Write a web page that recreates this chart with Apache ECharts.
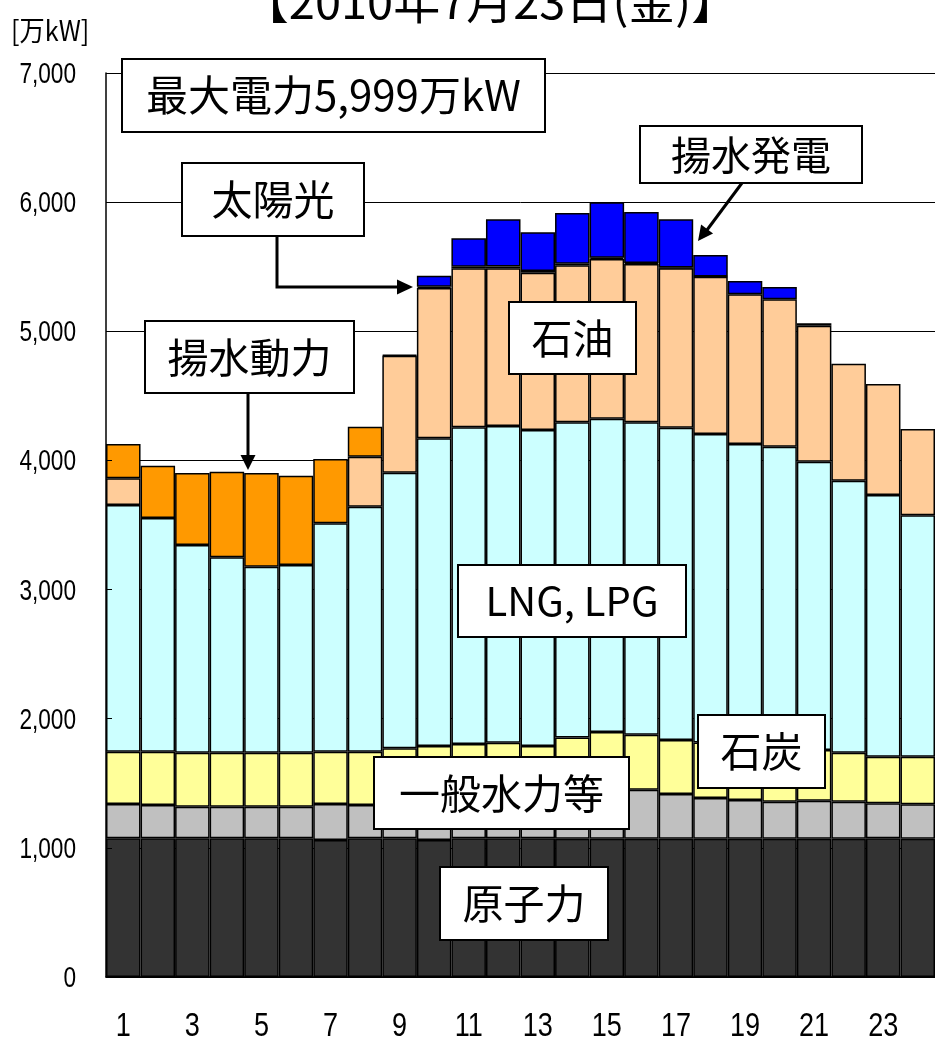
<!DOCTYPE html>
<html>
<head>
<meta charset="utf-8">
<script src="https://cdn.jsdelivr.net/npm/echarts@6/dist/echarts.min.js"></script>
<style>
html,body{margin:0;padding:0;background:#fff;}
#chart{width:935px;height:1039px;}
</style>
</head>
<body>
<div id="chart"></div>
<script>
// ---- data (万kW) ----
var hours   = ['1','2','3','4','5','6','7','8','9','10','11','12','13','14','15','16','17','18','19','20','21','22','23','24'];
var nuclear = [1075,1075,1075,1075,1075,1075,1060,1075,1075,1060,1075,1075,1075,1070,1070,1070,1070,1070,1070,1070,1070,1070,1075,1070];
var hydro   = [265,257,244,244,244,244,280,257,265,300,305,325,335,360,370,380,347,316,301,287,295,287,270,267];
var coal    = [405,413,418,418,418,418,405,413,431,429,424,414,379,425,457,426,418,429,424,418,393,380,361,369];
var lng     = [1910,1809,1608,1513,1440,1453,1768,1897,2134,2382,2453,2453,2447,2440,2426,2419,2419,2390,2332,2331,2232,2106,2026,1869];
var oil     = [207,'-','-','-','-','-','-',387,906,1164,1231,1221,1218,1216,1237,1226,1234,1218,1159,1142,1053,906,860,668];
var solar   = ['-','-','-','-','-','-','-','-',5,10,12,13,13,12,10,8,5,2,'-','-','-','-','-','-'];
var pumpGen = ['-','-','-','-','-','-','-','-','-',85,220,366,299,393,429,395,374,166,104,95,20,'-','-','-'];
var pumpUse = [265,405,558,663,726,692,498,232,'-','-','-','-','-','-','-','-','-','-','-','-','-','-','-','-'];
var yTicks  = [0,1000,2000,3000,4000,5000,6000,7000];

var chart = echarts.init(document.getElementById('chart'));
var jp = '"Noto Sans CJK JP", sans-serif';
var arial = '"Liberation Sans", Arial, sans-serif';

function mkSeries(name, data, color) {
  return {
    name: name, type: 'bar', stack: 'total', data: data,
    barCategoryGap: '0%', barGap: '0%',
    itemStyle: { color: color, borderColor: '#000', borderWidth: 1.5 },
    emphasis: { disabled: true },
    animation: false
  };
}

function box(x, y, w, h, text, size) {
  return {
    type: 'group',
    children: [
      { type: 'rect', z: 100, shape: { x: x, y: y, width: w, height: h },
        style: { fill: '#fff', stroke: '#000', lineWidth: 2 } },
      { type: 'text', z: 101, x: x + w / 2, y: y + h / 2,
        style: { text: text, font: size + 'px ' + jp, fill: '#000', align: 'center', verticalAlign: 'middle' } }
    ]
  };
}

function arrow(points, tip, back, half, dir) {
  var poly;
  if (dir === 'right') poly = [[tip[0], tip[1]], [tip[0] - back, tip[1] - half], [tip[0] - back, tip[1] + half]];
  else if (dir === 'down') poly = [[tip[0], tip[1]], [tip[0] - half, tip[1] - back], [tip[0] + half, tip[1] - back]];
  else {
    var dx = dir[0], dy = dir[1], L = Math.sqrt(dx * dx + dy * dy); dx /= L; dy /= L;
    var bx = tip[0] - dx * back, by = tip[1] - dy * back;
    poly = [[tip[0], tip[1]], [bx - dy * half, by + dx * half], [bx + dy * half, by - dx * half]];
  }
  return {
    type: 'group',
    children: [
      { type: 'polyline', z: 100, shape: { points: points }, style: { stroke: '#000', lineWidth: 3, fill: null } },
      { type: 'polygon', z: 100, shape: { points: poly }, style: { fill: '#000' } }
    ]
  };
}

var graphics = [
  { type: 'text', x: 490, y: 1, z: 100,
    style: { text: '【2010年7月23日(金)】', font: '47px ' + jp, fill: '#000', align: 'center', verticalAlign: 'middle' } },
  { type: 'text', x: 10, y: 30, z: 100, scaleX: 0.9, originX: 10, originY: 30,
    style: { text: '[万kW]', font: '28px ' + jp, fill: '#000', align: 'left', verticalAlign: 'middle' } },
  box(122, 59, 423, 73, '最大電力5,999万kW', 42),
  box(182, 163, 182, 73, '太陽光', 41),
  box(640, 126, 222, 57, '揚水発電', 40),
  box(509, 302, 127, 72, '石油', 41),
  box(145, 321, 209, 72, '揚水動力', 41),
  box(458, 565, 228, 72, 'LNG, LPG', 40),
  box(698, 715, 127, 73, '石炭', 41),
  box(374, 757, 255, 72, '一般水力等', 41),
  box(440, 867, 168, 73, '原子力', 41),
  arrow([[277, 237], [277, 287], [398, 287]], [413, 287], 16, 7.5, 'right'),
  arrow([[248, 393], [248, 457]], [248, 470], 15, 7.5, 'down'),
  arrow([[742, 183], [707, 230]], [698, 241], 15, 7.5, [-44, 58])
];

var option = {
  animation: false,
  backgroundColor: '#fff',
  grid: { left: 106, right: 0, top: 73, bottom: 62, containLabel: false },
  xAxis: {
    type: 'category', data: hours,
    axisLine: { show: true, lineStyle: { color: '#000', width: 1.5 } },
    axisTick: { show: false },
    axisLabel: { show: false }
  },
  yAxis: [{
    type: 'value', min: 0, max: 7000, interval: 1000,
    axisLine: { show: true, lineStyle: { color: '#000', width: 1.5 } },
    axisTick: { show: false },
    splitLine: { show: true, lineStyle: { color: '#000', width: 1 } },
    axisLabel: { show: false }
  }, {
    type: 'value', min: 0, max: 7000, interval: 1000, position: 'left', z: 10,
    axisLine: { show: false },
    axisTick: { show: true, inside: true, length: 6, lineStyle: { color: '#000', width: 1 } },
    splitLine: { show: false },
    axisLabel: { show: false }
  }],
  series: [
    mkSeries('原子力', nuclear, '#333333'),
    mkSeries('一般水力等', hydro, '#c0c0c0'),
    mkSeries('石炭', coal, '#ffff99'),
    mkSeries('LNG, LPG', lng, '#ccffff'),
    mkSeries('石油', oil, '#ffcc99'),
    mkSeries('太陽光', solar, '#000000'),
    mkSeries('揚水発電', pumpGen, '#0000ff'),
    mkSeries('揚水動力', pumpUse, '#ff9900')
  ],
  graphic: graphics
};
chart.setOption(option);

// condensed tick labels placed through the axes' own scales
var labels = [];
hours.forEach(function (h, i) {
  if (i % 2 !== 0) return;
  var px = chart.convertToPixel({ xAxisIndex: 0 }, h);
  labels.push({ type: 'text', x: px, y: 1027, z: 100, scaleX: 0.82,
    style: { text: h, font: '33px ' + arial, fill: '#000', align: 'center', verticalAlign: 'middle' } });
});
yTicks.forEach(function (v) {
  var py = chart.convertToPixel({ yAxisIndex: 0 }, v);
  labels.push({ type: 'text', x: 76, y: py + 2, z: 100, scaleX: 0.78,
    style: { text: v.toLocaleString('en-US'), font: '29px ' + arial, fill: '#000', align: 'right', verticalAlign: 'middle' } });
});
chart.setOption({ graphic: graphics.concat(labels) });
</script>
</body>
</html>
